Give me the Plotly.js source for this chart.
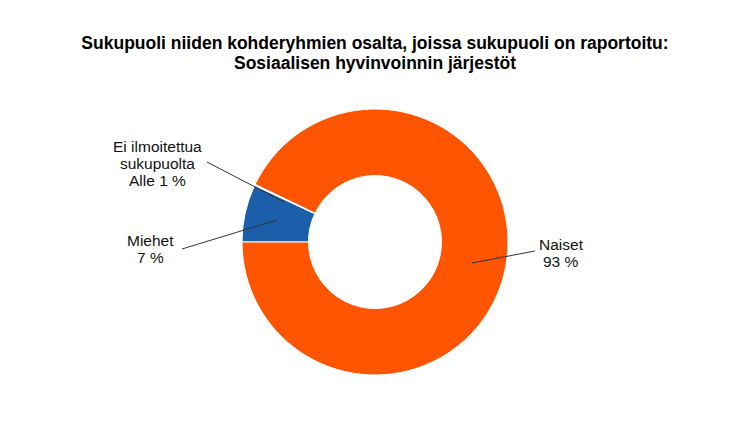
<!DOCTYPE html>
<html><head><meta charset="utf-8">
<script src="https://cdn.plot.ly/plotly-3.0.1.min.js"></script>
<style>html,body{margin:0;padding:0;background:#fff}</style>
</head><body><div id="chart" style="width:750px;height:436px"></div>
<script>
var categories = ["Miehet", "Ei ilmoitettua sukupuolta", "Naiset"];
var values = [7, 0.15, 93];
var labelLines = [["Miehet", "7 %"], ["Ei ilmoitettua", "sukupuolta", "Alle 1 %"], ["Naiset", "93 %"]];
var titleLines = ["Sukupuoli niiden kohderyhmien osalta, joissa sukupuoli on raportoitu:", "Sosiaalisen hyvinvoinnin järjestöt"];
var colors = ["#1B5EAA", "#FFFFFF", "#FF5500"];

function px(x){return x/750;}
function py(y){return 1 - y/436;}

var data = [{
  type: "pie",
  labels: categories,
  values: values,
  hole: 0.5,
  sort: false,
  direction: "clockwise",
  rotation: 270,
  textinfo: "none",
  hoverinfo: "label+percent",
  marker: {colors: colors, line: {color: "#FFFFFF", width: 1}},
  domain: {x: [px(242), px(508)], y: [py(375), py(109)]},
  showlegend: false
}];

var font = {family: "Liberation Sans, Arial, sans-serif", size: 15.5, color: "#111"};
var tfont = {family: "Liberation Sans, Arial, sans-serif", size: 17.5, color: "#000"};
var labelPos = [
  {x: 150, y: [240, 257]},
  {x: 157, y: [146, 163, 180]},
  {x: 561, y: [244, 261]}
];
var annotations = [];
labelLines.forEach(function(lines, i){
  lines.forEach(function(t, j){
    annotations.push({xref: "paper", yref: "paper", x: px(labelPos[i].x), y: py(labelPos[i].y[j]),
      text: t, showarrow: false, font: font, xanchor: "center", yanchor: "middle"});
  });
});
annotations.push({xref: "paper", yref: "paper", x: 0.5, y: py(63), text: "<b>" + titleLines[1] + "</b>",
  showarrow: false, font: tfont, xanchor: "center", yanchor: "middle"});

var layout = {
  width: 750, height: 436,
  margin: {l: 0, r: 0, t: 0, b: 0},
  paper_bgcolor: "#fff",
  title: {
    text: "<b>" + titleLines[0] + "</b>",
    font: tfont,
    x: 0.5, xanchor: "center", y: py(43), yanchor: "middle"
  },
  annotations: annotations,
  shapes: [
    {type: "line", xref: "paper", yref: "paper", x0: px(182), y0: py(249), x1: px(277), y1: py(220), line: {color: "#333", width: 1}},
    {type: "line", xref: "paper", yref: "paper", x0: px(207), y0: py(162), x1: px(284), y1: py(202), line: {color: "#333", width: 1}},
    {type: "line", xref: "paper", yref: "paper", x0: px(472), y0: py(263), x1: px(535), y1: py(251), line: {color: "#333", width: 1}}
  ]
};
Plotly.newPlot("chart", data, layout, {displayModeBar: false, staticPlot: true});
</script></body></html>
